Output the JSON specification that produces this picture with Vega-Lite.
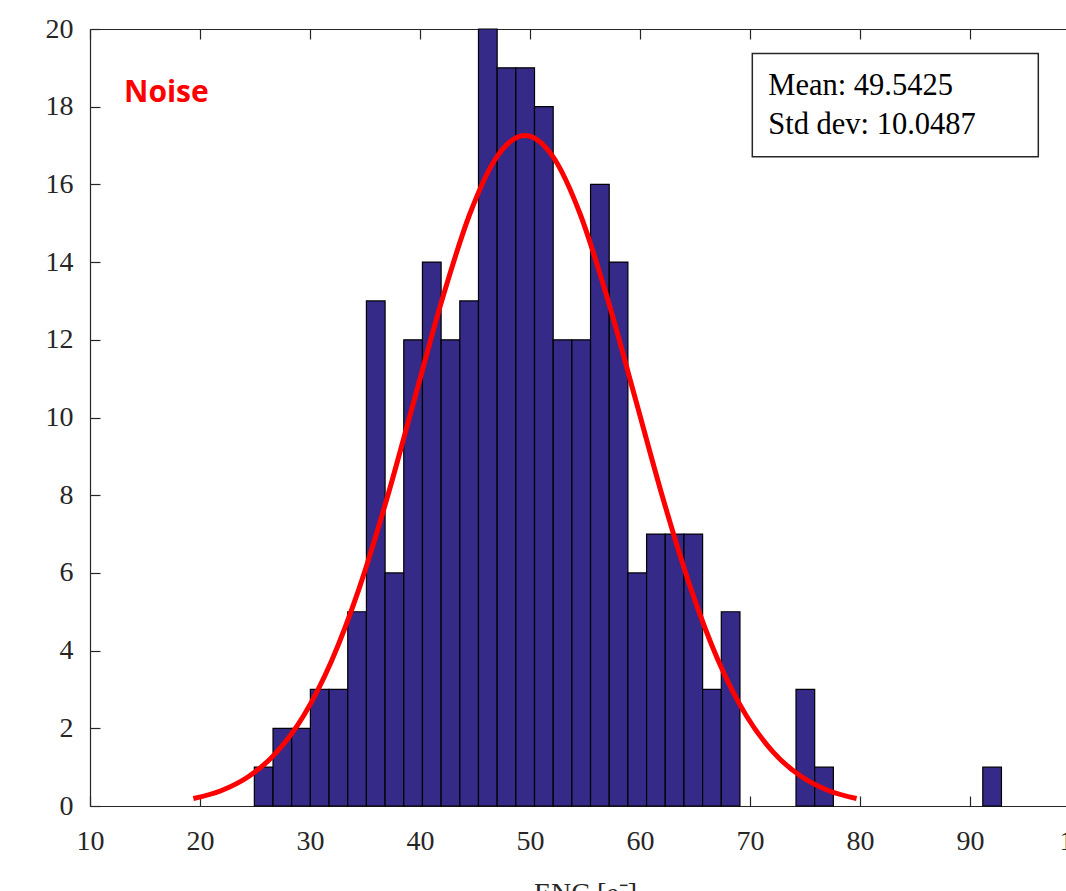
{
  "$schema": "https://vega.github.io/schema/vega-lite/v6.json",
  "autosize": "none",
  "width": 990,
  "height": 777,
  "padding": {"left": 90, "top": 29, "right": -14, "bottom": 85},
  "background": "white",
  "config": {
    "view": {"stroke": null},
    "font": "Liberation Serif",
    "axis": {
      "grid": false,
      "labelFlush": false,
      "labelOverlap": false,
      "domainColor": "#262626",
      "domainWidth": 1.2,
      "tickColor": "#262626",
      "tickWidth": 1.2,
      "labelColor": "#262626",
      "labelFont": "Liberation Serif",
      "labelFontSize": 28,
      "titleFont": "Liberation Serif",
      "titleFontSize": 28,
      "titleFontWeight": "normal",
      "titleColor": "#262626"
    }
  },
  "datasets": {
    "hist": [
      {"bin_start": 24.94, "bin_end": 26.638, "count": 1},
      {"bin_start": 26.638, "bin_end": 28.336, "count": 2},
      {"bin_start": 28.336, "bin_end": 30.034, "count": 2},
      {"bin_start": 30.034, "bin_end": 31.732, "count": 3},
      {"bin_start": 31.732, "bin_end": 33.43, "count": 3},
      {"bin_start": 33.43, "bin_end": 35.128, "count": 5},
      {"bin_start": 35.128, "bin_end": 36.826, "count": 13},
      {"bin_start": 36.826, "bin_end": 38.524, "count": 6},
      {"bin_start": 38.524, "bin_end": 40.222, "count": 12},
      {"bin_start": 40.222, "bin_end": 41.92, "count": 14},
      {"bin_start": 41.92, "bin_end": 43.618, "count": 12},
      {"bin_start": 43.618, "bin_end": 45.316, "count": 13},
      {"bin_start": 45.316, "bin_end": 47.014, "count": 20},
      {"bin_start": 47.014, "bin_end": 48.712, "count": 19},
      {"bin_start": 48.712, "bin_end": 50.41, "count": 19},
      {"bin_start": 50.41, "bin_end": 52.108, "count": 18},
      {"bin_start": 52.108, "bin_end": 53.806, "count": 12},
      {"bin_start": 53.806, "bin_end": 55.504, "count": 12},
      {"bin_start": 55.504, "bin_end": 57.202, "count": 16},
      {"bin_start": 57.202, "bin_end": 58.9, "count": 14},
      {"bin_start": 58.9, "bin_end": 60.598, "count": 6},
      {"bin_start": 60.598, "bin_end": 62.296, "count": 7},
      {"bin_start": 62.296, "bin_end": 63.994, "count": 7},
      {"bin_start": 63.994, "bin_end": 65.692, "count": 7},
      {"bin_start": 65.692, "bin_end": 67.39, "count": 3},
      {"bin_start": 67.39, "bin_end": 69.088, "count": 5},
      {"bin_start": 74.182, "bin_end": 75.88, "count": 3},
      {"bin_start": 75.88, "bin_end": 77.578, "count": 1},
      {"bin_start": 91.162, "bin_end": 92.86, "count": 1}
    ],
    "fit": [
      {"x": 19.396, "y": 0.192},
      {"x": 21.909, "y": 0.393},
      {"x": 24.421, "y": 0.758},
      {"x": 26.933, "y": 1.373},
      {"x": 29.445, "y": 2.336},
      {"x": 31.957, "y": 3.733},
      {"x": 34.469, "y": 5.603},
      {"x": 36.982, "y": 7.902},
      {"x": 39.494, "y": 10.469},
      {"x": 42.006, "y": 13.029},
      {"x": 44.518, "y": 15.232},
      {"x": 47.03, "y": 16.729},
      {"x": 49.543, "y": 17.26},
      {"x": 52.055, "y": 16.729},
      {"x": 54.567, "y": 15.232},
      {"x": 57.079, "y": 13.029},
      {"x": 59.591, "y": 10.469},
      {"x": 62.103, "y": 7.902},
      {"x": 64.616, "y": 5.603},
      {"x": 67.128, "y": 3.733},
      {"x": 69.64, "y": 2.336},
      {"x": 72.152, "y": 1.373},
      {"x": 74.664, "y": 0.758},
      {"x": 77.176, "y": 0.393},
      {"x": 79.689, "y": 0.192}
    ],
    "box": [{"x1": 70.21, "x2": 96.21, "y1": 16.71, "y2": 19.37}],
    "stats": [
      {"x": 71.66, "y": 18.3, "label": "Mean: 49.5425"},
      {"x": 71.66, "y": 17.3, "label": "Std dev: 10.0487"}
    ],
    "note": [{"x": 13.09, "y": 18.13, "label": "Noise"}]
  },
  "layer": [
    {
      "data": {"name": "hist"},
      "mark": {"type": "rect", "fill": "#352A87", "stroke": "#000000", "strokeWidth": 1.2},
      "encoding": {
        "x": {
          "field": "bin_start", "type": "quantitative",
          "scale": {"domain": [10, 100], "nice": false, "zero": false},
          "axis": {
            "orient": "bottom",
            "values": [10, 20, 30, 40, 50, 60, 70, 80, 90, 100],
            "tickSize": -10,
            "labelPadding": 31,
            "title": "ENC [e⁻]",
            "titlePadding": 24
          }
        },
        "x2": {"field": "bin_end"},
        "y": {
          "field": "count", "type": "quantitative",
          "scale": {"domain": [0, 20], "nice": false},
          "axis": {
            "orient": "left",
            "values": [0, 2, 4, 6, 8, 10, 12, 14, 16, 18, 20],
            "tickSize": -10,
            "labelPadding": 27,
            "title": null
          }
        },
        "y2": {"datum": 0}
      }
    },
    {
      "data": {"name": "fit"},
      "mark": {"type": "line", "color": "#FF0000", "strokeWidth": 5, "interpolate": "monotone"},
      "encoding": {
        "x": {
          "field": "x", "type": "quantitative",
          "axis": {
            "orient": "top",
            "values": [10, 20, 30, 40, 50, 60, 70, 80, 90, 100],
            "tickSize": -10,
            "labels": false,
            "title": null
          }
        },
        "y": {"field": "y", "type": "quantitative", "axis": null}
      }
    },
    {
      "data": {"name": "box"},
      "mark": {"type": "rect", "fill": "white", "stroke": "#262626", "strokeWidth": 1.5},
      "encoding": {
        "x": {"field": "x1", "type": "quantitative", "axis": null},
        "x2": {"field": "x2"},
        "y": {"field": "y1", "type": "quantitative", "axis": null},
        "y2": {"field": "y2"}
      }
    },
    {
      "data": {"name": "stats"},
      "mark": {"type": "text", "align": "left", "baseline": "alphabetic", "font": "Liberation Serif", "fontSize": 30.5, "color": "#000000"},
      "encoding": {
        "x": {"field": "x", "type": "quantitative", "axis": null},
        "y": {"field": "y", "type": "quantitative", "axis": null},
        "text": {"field": "label"}
      }
    },
    {
      "data": {"name": "note"},
      "mark": {"type": "text", "align": "left", "baseline": "alphabetic", "font": "Open Sans", "fontWeight": "bold", "fontSize": 30, "color": "#FF0000"},
      "encoding": {
        "x": {"field": "x", "type": "quantitative", "axis": null},
        "y": {"field": "y", "type": "quantitative", "axis": null},
        "text": {"field": "label"}
      }
    }
  ],
  "resolve": {"axis": {"x": "independent", "y": "independent"}}
}
